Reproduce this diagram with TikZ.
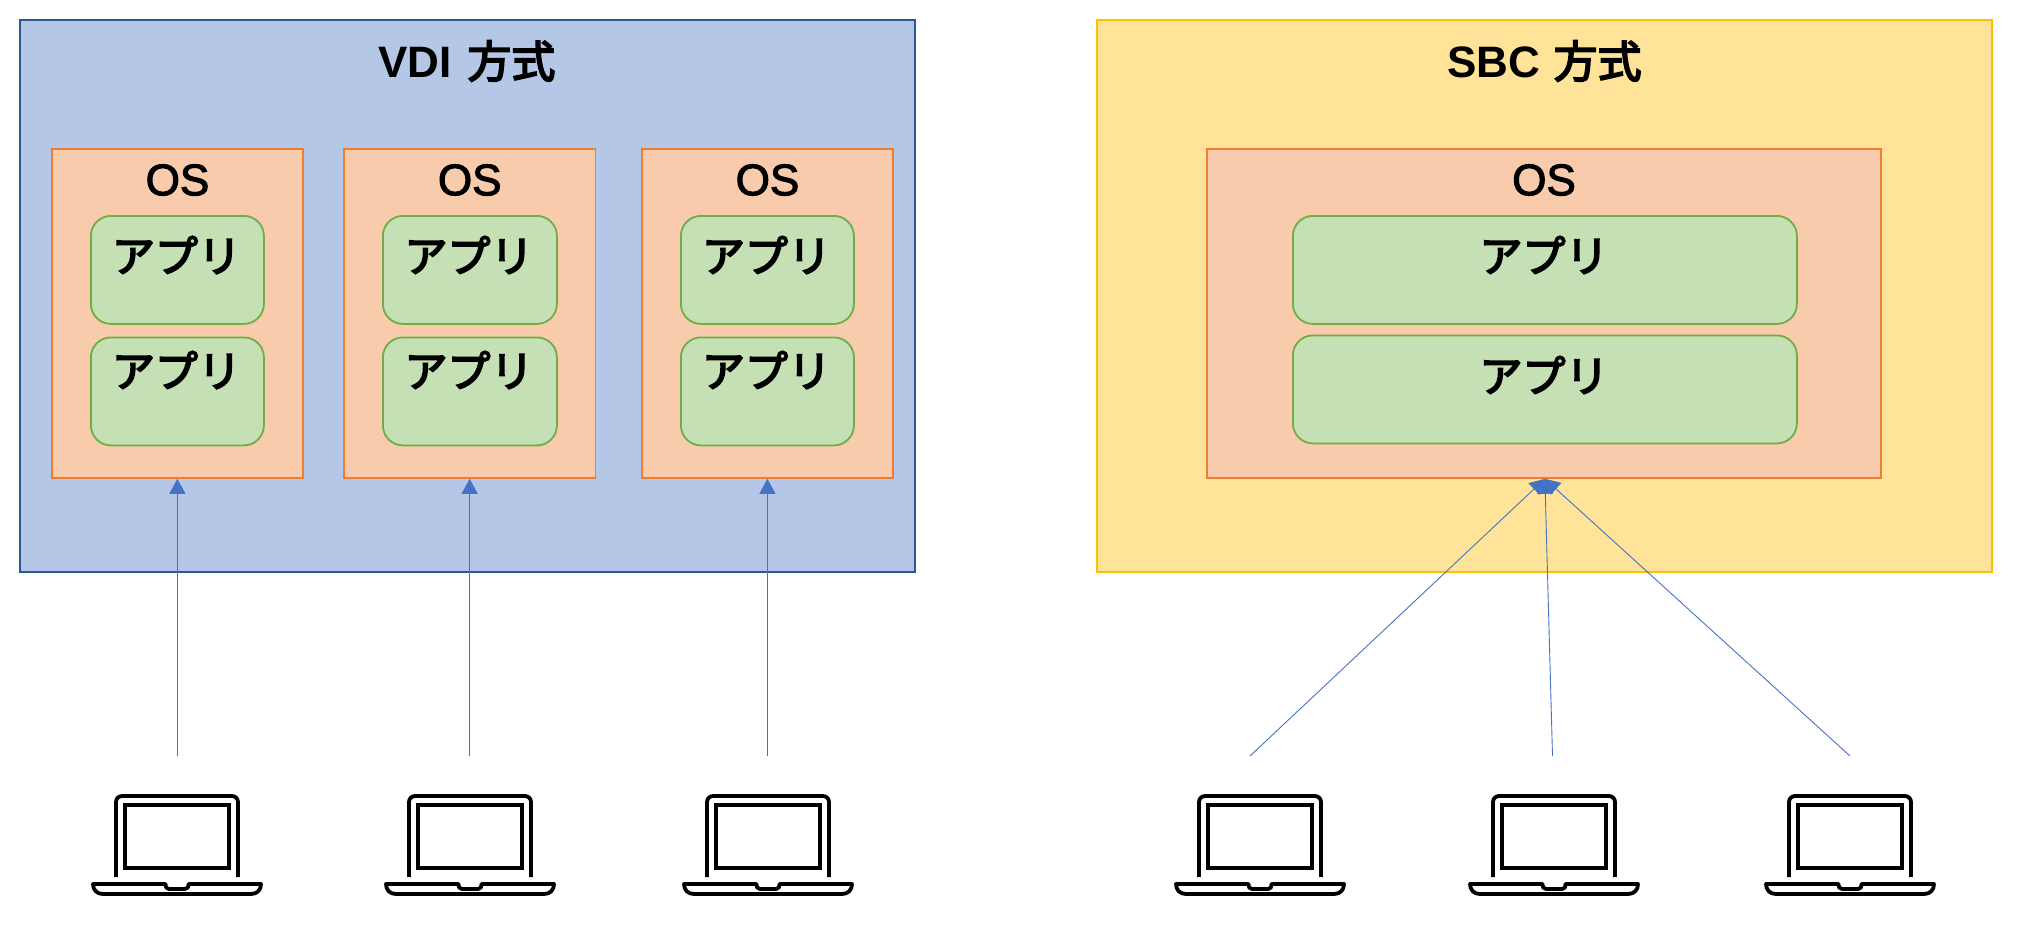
\documentclass[tikz,border=0pt]{standalone}
\usepackage{fontspec}
\setmainfont{Noto Sans CJK JP}
\newfontfamily\cjkheavy{Noto Sans CJK JP}[FakeBold=4]
\newfontfamily\latinfont{Liberation Sans}[FakeBold=2.5]
\newfontfamily\latinbold{Liberation Sans Bold}
\usetikzlibrary{arrows.meta,calc}
\definecolor{bluefill}{HTML}{B4C7E7}
\definecolor{blueline}{HTML}{2F5597}
\definecolor{yelfill}{HTML}{FFE399}
\definecolor{yelline}{HTML}{FFC000}
\definecolor{osfill}{HTML}{F8CBAD}
\definecolor{osline}{HTML}{ED7D31}
\definecolor{appfill}{HTML}{C5E0B4}
\definecolor{appline}{HTML}{70AD47}
\definecolor{arrowc}{HTML}{4472C4}
\tikzset{
  x=1pt,y=-1pt,
  panel/.style={draw,line width=1.7pt,inner sep=0pt,anchor=north west},
  osbox/.style={draw=osline,fill=osfill,line width=1.8pt,inner sep=0pt,anchor=north west},
  appbox/.style={draw=appline,fill=appfill,line width=1.8pt,rounded corners=20pt,inner sep=0pt,anchor=north west},
  lbl/.style={inner sep=0pt,font=\fontsize{43}{50}\selectfont\cjkheavy,text=black,anchor=center},
  ttl/.style={inner sep=0pt,font=\fontsize{44}{50}\selectfont,text=black,anchor=center},
  oslbl/.style={inner sep=0pt,font=\fontsize{44}{50}\selectfont\latinfont,text=black,anchor=center},
  conn/.style={draw=arrowc,line width=0.9pt,-{Triangle[length=15pt,width=16pt,fill=arrowc]}},
  laptop/.pic={
    \draw[line width=3.8pt,rounded corners=6pt] (-61,81) -- (-61,0) -- (61,0) -- (61,81);
    \draw[line width=3.8pt] (-52,9) rectangle (52,72);
    \draw[line width=3.8pt,line join=round] (-84,88) -- (-11.5,88) .. controls (-11,92) .. (-8,93) -- (8,93) .. controls (11,92) .. (11.5,88) -- (84,88) .. controls (84,94) and (80,98) .. (74,98) -- (-74,98) .. controls (-80,98) and (-84,94) .. (-84,88) -- cycle;
  }
}
\begin{document}
\begin{tikzpicture}
\useasboundingbox (0,0) rectangle (2037,930);
% panels
\node[panel,draw=blueline,fill=bluefill,minimum width=895pt,minimum height=552pt] (vdi) at (19,19) {};
\node[panel,draw=yelline,fill=yelfill,minimum width=895pt,minimum height=552pt] (sbc) at (1096,19) {};
\node[ttl] (vdit) at (467,61) {{\latinbold VDI}\hspace{0.35em}{\cjkheavy 方式}};
\node[ttl] (sbct) at (1544.5,61) {{\latinbold SBC}\hspace{0.3em}{\cjkheavy 方式}};
% OS boxes
\foreach \n/\x/\w in {a/51/251,b/343/251.5,c/641/251,d/1206/674}{
  \node[osbox,minimum width=\w pt,minimum height=329pt] (os\n) at (\x,148) {};
  \node[oslbl] (osl\n) at ($(\x,180)+(\w/2+1,0)$) {OS};
}
% application boxes
\foreach \n/\x/\w/\yb/\tb in {a/90/173/336.5/370,b/382/174/336.5/370,c/680/173/336.5/370,d/1292/504/334.5/375}{
  \node[appbox,minimum width=\w pt,minimum height=108pt] (app\n1) at (\x,215) {};
  \node[appbox,minimum width=\w pt,minimum height=108pt] (app\n2) at (\x,\yb) {};
  \node[lbl] (appl\n1) at ($(\x,255)+(\w/2,0)$) {アプリ};
  \node[lbl] (appl\n2) at ($(\x,\tb)+(\w/2,0)$) {アプリ};
}
% laptops
\foreach \n/\x in {a/177,b/470,c/768,d/1260,e/1554,f/1850}{
  \pic at (\x,796) {laptop};
}
% connector free ends
\coordinate (cy) at (0,756);
\coordinate (ca) at (osa.south |- cy);
\coordinate (cb) at (osb.south |- cy);
\coordinate (cc) at (osc.south |- cy);
\coordinate (cd) at (1250,756);
\coordinate (ce) at (1552.5,756);
\coordinate (cf) at (1850,756);
\coordinate (sbctip) at ($(osd.south)+(1,0)$);
\draw[conn] (ca) -- (osa.south);
\draw[conn] (cb) -- (osb.south);
\draw[conn] (cc) -- (osc.south);
\draw[conn] (cd) -- (sbctip);
\draw[conn] (ce) -- (sbctip);
\draw[conn] (cf) -- (sbctip);
\end{tikzpicture}
\end{document}
